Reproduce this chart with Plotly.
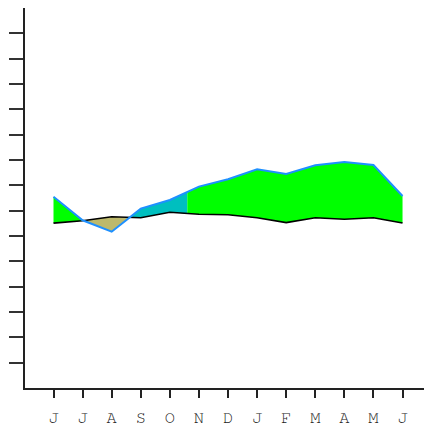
import numpy as np
import plotly.graph_objects as go

months = ["J", "J", "A", "S", "O", "N", "D", "J", "F", "M", "A", "M", "J"]
temperature = [65.1, 66.0, 67.6, 67.2, 69.4, 68.6, 68.4, 67.2, 65.3, 67.2, 66.6, 67.2, 65.1]
precipitation = [75.5, 66.2, 61.7, 70.8, 74.2, 79.5, 82.4, 86.3, 84.5, 87.9, 89.2, 88.0, 75.8]
teal_end = 4.6  # end of the transitional wet stretch after the dry season

WET = "#00ff00"
DRY = "#bdb96b"
TEAL = "#00bfbf"

x = np.arange(len(months), dtype=float)
t = np.array(temperature)
p = np.array(precipitation)
d = p - t

# crossing points between the two curves
cross = []
for i in range(len(x) - 1):
    if d[i] * d[i + 1] < 0:
        cross.append(x[i] + d[i] / (d[i] - d[i + 1]))
dry_end = cross[1] if len(cross) > 1 else x[0]

breaks = sorted(set([x[0], x[-1], teal_end] + cross))

fig = go.Figure()
for a, b in zip(breaks[:-1], breaks[1:]):
    xs = [a] + [v for v in x if a < v < b] + [b]
    xs = np.array(xs)
    ps = np.interp(xs, x, p)
    ts = np.interp(xs, x, t)
    mid = 0.5 * (a + b)
    dm = np.interp(mid, x, p) - np.interp(mid, x, t)
    if dm < 0:
        col = DRY
    elif dry_end <= mid < teal_end:
        col = TEAL
    else:
        col = WET
    fig.add_trace(go.Scatter(
        x=np.concatenate([xs, xs[::-1]]),
        y=np.concatenate([ps, ts[::-1]]),
        fill="toself", fillcolor=col, mode="lines",
        line=dict(width=0), hoverinfo="skip", showlegend=False))

fig.add_trace(go.Scatter(x=x, y=t, mode="lines",
                         line=dict(color="black", width=1.6), showlegend=False))
fig.add_trace(go.Scatter(x=x, y=p, mode="lines",
                         line=dict(color="#1e90ff", width=2), showlegend=False))

# the page body adds an 8px offset, so the figure is sized to fit the window
fig.update_layout(
    width=424, height=417,
    margin=dict(l=17, r=3, t=0, b=37),
    paper_bgcolor="white", plot_bgcolor="white",
    xaxis=dict(range=[-0.98, 12.91], tickmode="array", tickvals=x, ticktext=months,
               showgrid=False, zeroline=False, showline=True, linecolor="#222",
               linewidth=1.5, ticks="outside", ticklen=8, tickwidth=1.5, tickcolor="#222",
               tickfont=dict(family="'Nimbus Mono PS', 'Nimbus Mono L', FreeMono, 'Courier New', Courier, 'Liberation Mono', monospace",
                             size=17, color="#222"),
               ticklabelstandoff=5, automargin=False, fixedrange=True),
    yaxis=dict(range=[0, 150], tickmode="array", tickvals=list(range(10, 141, 10)),
               showticklabels=False, showgrid=False, zeroline=False, showline=True,
               linecolor="#222", linewidth=1.5, mirror="ticks", ticks="outside",
               ticklen=14, tickwidth=2, tickcolor="#333", automargin=False, fixedrange=True),
)

fig.write_html("out.html")
